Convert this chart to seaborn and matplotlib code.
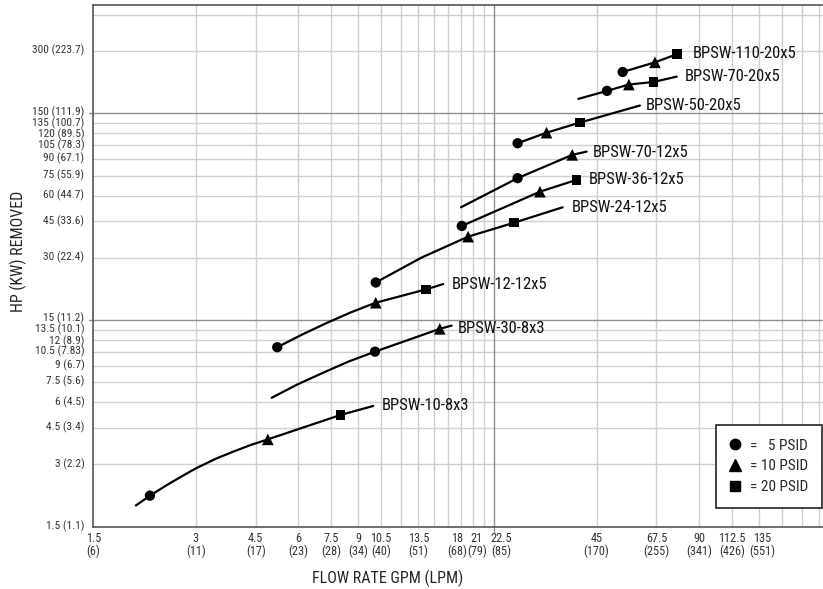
import numpy as np
import pandas as pd
import matplotlib
matplotlib.use("Agg")
import matplotlib.pyplot as plt
import matplotlib.transforms as mtransforms
from matplotlib import font_manager as fm
from matplotlib.lines import Line2D
import seaborn as sns

# ---------------- data ----------------
# Each curve: flow (GPM) and HP removed along the drawn line
bpsw_10_8x3_gpm = [2.0, 2.2, 2.46, 2.76, 3.02, 3.45, 3.86, 4.33, 4.88, 7.98, 9.95]
bpsw_10_8x3_hp = [1.90, 2.12, 2.38, 2.66, 2.89, 3.21, 3.46, 3.72, 3.97, 5.21, 5.76]
bpsw_30_8x3_gpm = [5.01, 5.94, 7.1, 8.44, 10.07, 15.6, 16.9]
bpsw_30_8x3_hp = [6.31, 7.30, 8.35, 9.46, 10.55, 13.6, 14.1]
bpsw_12_12x5_gpm = [5.2, 6.14, 7.25, 8.56, 10.12, 14.2, 15.97]
bpsw_12_12x5_hp = [11.08, 12.74, 14.5, 16.35, 18.2, 21.1, 22.4]
bpsw_24_12x5_gpm = [10.12, 13.8, 18.9, 25.8, 35.8]
bpsw_24_12x5_hp = [22.8, 30.1, 38.0, 44.4, 52.7]
bpsw_36_12x5_gpm = [18.1, 30.7, 39.3]
bpsw_36_12x5_hp = [42.8, 62.7, 71.5]
bpsw_70_12x5_gpm = [18.0, 26.4, 38.2, 42.1]
bpsw_70_12x5_hp = [52.7, 72.9, 94.5, 98.0]
bpsw_50_20x5_gpm = [26.4, 32.1, 40.2, 60.3]
bpsw_50_20x5_hp = [107.6, 121.0, 135.4, 163.7]
bpsw_70_20x5_gpm = [39.8, 48.3, 56.0, 66.2, 77.4]
bpsw_70_20x5_hp = [176.3, 192.8, 206.9, 213.0, 226.0]
bpsw_110_20x5_gpm = [53.7, 66.8, 77.4]
bpsw_110_20x5_hp = [238.0, 265.0, 290.0]

series_names = ["BPSW-10-8x3", "BPSW-30-8x3", "BPSW-12-12x5", "BPSW-24-12x5",
                "BPSW-36-12x5", "BPSW-70-12x5", "BPSW-50-20x5", "BPSW-70-20x5",
                "BPSW-110-20x5"]
series_gpm = [bpsw_10_8x3_gpm, bpsw_30_8x3_gpm, bpsw_12_12x5_gpm, bpsw_24_12x5_gpm,
              bpsw_36_12x5_gpm, bpsw_70_12x5_gpm, bpsw_50_20x5_gpm, bpsw_70_20x5_gpm,
              bpsw_110_20x5_gpm]
series_hp = [bpsw_10_8x3_hp, bpsw_30_8x3_hp, bpsw_12_12x5_hp, bpsw_24_12x5_hp,
             bpsw_36_12x5_hp, bpsw_70_12x5_hp, bpsw_50_20x5_hp, bpsw_70_20x5_hp,
             bpsw_110_20x5_hp]

# Marker points by pressure drop
psid5_gpm = [2.2, 10.07, 5.2, 10.12, 18.1, 26.4, 26.4, 48.3, 53.7]
psid5_hp = [2.12, 10.55, 11.08, 22.8, 42.8, 72.9, 107.6, 192.8, 238.0]
psid10_gpm = [4.88, 15.6, 10.12, 18.9, 30.7, 38.2, 32.1, 56.0, 66.8]
psid10_hp = [3.97, 13.6, 18.2, 38.0, 62.7, 94.5, 121.0, 206.9, 265.0]
psid20_gpm = [7.98, 14.2, 25.8, 39.3, 40.2, 66.2, 77.4]
psid20_hp = [5.21, 21.1, 44.4, 71.5, 135.4, 213.0, 290.0]

x_ticks = [1.5, 3, 4.5, 6, 7.5, 9, 10.5, 13.5, 18, 21, 22.5, 45, 67.5, 90, 112.5, 135]
x_tick_labels = ["1.5\n(6)", "3\n(11)", "4.5\n(17)", "6\n(23)", "7.5\n(28)", "9\n(34)",
                 "10.5\n(40)", "13.5\n(51)", "18\n(68)", "21\n(79)", "22.5\n(85)",
                 "45\n(170)", "67.5\n(255)", "90\n(341)", "112.5\n(426)", "135\n(551)"]
y_ticks = [1.5, 3, 4.5, 6, 7.5, 9, 10.5, 12, 13.5, 15, 30, 45, 60, 75, 90, 105, 120,
           135, 150, 300]
y_tick_labels = ["1.5 (1.1)", "3 (2.2)", "4.5 (3.4)", "6 (4.5)", "7.5 (5.6)", "9 (6.7)",
                 "10.5 (7.83)", "12 (8.9)", "13.5 (10.1)", "15 (11.2)", "30 (22.4)",
                 "45 (33.6)", "60 (44.7)", "75 (55.9)", "90 (67.1)", "105 (78.3)",
                 "120 (89.5)", "135 (100.7)", "150 (111.9)", "300 (223.7)"]

# ---------------- build tables ----------------
line_df = pd.concat(
    [pd.DataFrame({"series": n, "gpm": g, "hp": h})
     for n, g, h in zip(series_names, series_gpm, series_hp)],
    ignore_index=True)
marker_df = pd.concat([
    pd.DataFrame({"gpm": psid5_gpm, "hp": psid5_hp, "psid": "5"}),
    pd.DataFrame({"gpm": psid10_gpm, "hp": psid10_hp, "psid": "10"}),
    pd.DataFrame({"gpm": psid20_gpm, "hp": psid20_hp, "psid": "20"}),
], ignore_index=True)

# ---------------- style ----------------
sns.set_theme(style="white")


def pick_font():
    """Find a narrow / condensed sans font if one is installed."""
    prefs = ["Liberation Sans Narrow", "Roboto Condensed", "Arial Narrow",
             "Open Sans Condensed", "Noto Sans Condensed", "DejaVu Sans Condensed"]
    cands = []
    for f in fm.fontManager.ttflist:
        nm = f.name
        st = str(f.stretch)
        w = f.weight
        if f.style != "normal":
            continue
        if w not in (400, "normal", "regular", "Regular"):
            continue
        cond = ("Narrow" in nm or "Condensed" in nm or
                st in ("condensed", "semi-condensed"))
        if not cond:
            continue
        key = nm if "Condensed" in nm or "Narrow" in nm else nm + " Condensed"
        rank = prefs.index(key) if key in prefs else len(prefs)
        cands.append((rank, f))
    if cands:
        cands.sort(key=lambda t: t[0])
        return cands[0][1], 1.0
    return None, 0.84


font_entry, SCALE = pick_font()
if font_entry is not None:
    FP = fm.FontProperties(fname=font_entry.fname)
    plt.rcParams["font.family"] = [font_entry.name, "DejaVu Sans"]
    plt.rcParams["font.stretch"] = font_entry.stretch
else:
    FP = fm.FontProperties(family=["Liberation Sans", "DejaVu Sans"])
    plt.rcParams["font.family"] = ["Liberation Sans", "DejaVu Sans"]

W, H = 823, 589
fig = plt.figure(figsize=(W / 100, H / 100), dpi=100)
left_px, right_px, top_px, bot_px = 93.3, 823.0, 5.0, 526.7
ax = fig.add_axes([left_px / W, 1 - bot_px / H, (right_px - left_px) / W,
                   (bot_px - top_px) / H])
ax.set_xscale("log")
ax.set_yscale("log")
ax.set_xlim(1.5, 208)
ax.set_ylim(1.5, 502)

# grid lines
light = "#cfcfcf"
dark = "#8f8f8f"
x_grid = list(np.arange(3, 21.01, 1.5)) + list(np.arange(45, 202.6, 22.5))
y_grid = list(np.arange(3, 13.51, 1.5)) + list(np.arange(30, 135.1, 15)) + [300, 450]
for v in x_grid:
    ax.axvline(v, color=light, lw=1.0, zorder=0)
for v in y_grid:
    ax.axhline(v, color=light, lw=1.0, zorder=0)
ax.axvline(22.5, ymin=-0.01, ymax=1, color=dark, lw=1.0, zorder=0.5, clip_on=False)
for v in (15, 150):
    ax.axhline(v, xmin=-0.006, xmax=1, color=dark, lw=1.0, zorder=0.5, clip_on=False)

# curves
sns.lineplot(data=line_df, x="gpm", y="hp", units="series", estimator=None,
             sort=False, color="black", lw=1.6, ax=ax, zorder=3)
sns.scatterplot(data=marker_df, x="gpm", y="hp", style="psid",
                markers={"5": "o", "10": "^", "20": "s"},
                size="psid", sizes={"5": 55, "10": 70, "20": 48},
                color="black", edgecolor="none", legend=False, ax=ax, zorder=4)

# curve labels
label_offsets_px = {"BPSW-10-8x3": (9, 0), "BPSW-30-8x3": (6, -2.6),
                    "BPSW-12-12x5": (9, 0), "BPSW-24-12x5": (9, 0),
                    "BPSW-36-12x5": (12.6, 0.7), "BPSW-70-12x5": (6, -1),
                    "BPSW-50-20x5": (6, 0.4), "BPSW-70-20x5": (7.6, 0),
                    "BPSW-110-20x5": (16, 0.3)}
for n, g, h in zip(series_names, series_gpm, series_hp):
    dx, dy = label_offsets_px[n]
    ax.annotate(n, xy=(g[-1], h[-1]), xytext=(dx * 0.72, dy * 0.72),
                textcoords="offset points", ha="left", va="center",
                fontsize=12 * SCALE, color="#111111", zorder=5)

# ticks
ax.set_xticks(x_ticks)
ax.set_xticklabels(x_tick_labels, fontsize=8.8 * SCALE, linespacing=1.0)
ax.set_yticks(y_ticks)
ax.set_yticklabels(y_tick_labels, fontsize=8.2 * SCALE)
ax.xaxis.set_minor_locator(matplotlib.ticker.NullLocator())
ax.yaxis.set_minor_locator(matplotlib.ticker.NullLocator())
ax.tick_params(axis="both", length=0, colors="#333333")
ax.tick_params(axis="x", pad=3.5)
ax.tick_params(axis="y", pad=6.5)
x_label_shift_px = {"18\n": -3.5, "21\n": -7, "22.5\n": 7.5, "135\n": 3}
for lab in ax.get_xticklabels():
    t = lab.get_text()
    for k, d in x_label_shift_px.items():
        if t.startswith(k):
            lab.set_transform(lab.get_transform() +
                              mtransforms.ScaledTranslation(d / 100, 0,
                                                            fig.dpi_scale_trans))
# y labels sit slightly above their grid lines in the reference
y_label_shift_px = {"150 ": 2.8, "135 ": 1.3, "120 ": 0.2,
                    "15 ": 2.8, "13.5 ": 1.3, "12 ": 0.2}
for lab in ax.get_yticklabels():
    t = lab.get_text()
    d = 1.8
    for k, v in y_label_shift_px.items():
        if t.startswith(k):
            d = v
    lab.set_transform(lab.get_transform() +
                      mtransforms.ScaledTranslation(0, d / 100, fig.dpi_scale_trans))
ax.set_xlabel("")
ax.set_ylabel("")

for s in ("left", "bottom", "top"):
    ax.spines[s].set_color("#555555")
    ax.spines[s].set_linewidth(1.2)
ax.spines["right"].set_visible(False)

# axis titles
fig.text(388 / W, 1 - 578 / H, "FLOW RATE GPM (LPM)", ha="center", va="center",
         fontsize=11.5 * SCALE)
fig.text(18 / W, 1 - 251 / H, "HP (KW) REMOVED", ha="center", va="center",
         rotation=90, fontsize=11.5 * SCALE)

# legend
handles = [Line2D([], [], marker="o", color="black", ls="none", markersize=7.5),
           Line2D([], [], marker="^", color="black", ls="none", markersize=8.5),
           Line2D([], [], marker="s", color="black", ls="none", markersize=7)]
labels = ["=   5 PSID", "= 10 PSID", "= 20 PSID"]
leg = ax.legend(handles, labels, loc="lower right",
                bbox_to_anchor=((822 - left_px) / (right_px - left_px),
                                (bot_px - 508) / (bot_px - top_px)),
                borderaxespad=0, frameon=True, fancybox=False, framealpha=1,
                edgecolor="#222222", prop={"size": 11 * SCALE}, handlelength=0.7,
                handletextpad=0.6, borderpad=0.9, labelspacing=0.45)
leg.get_frame().set_linewidth(1.2)
leg.set_zorder(6)

# make sure every text uses the chosen face
for t in fig.findobj(matplotlib.text.Text):
    sz = t.get_fontsize()
    t.set_fontproperties(FP)
    t.set_fontsize(sz)

fig.savefig("out.png", dpi=100)
